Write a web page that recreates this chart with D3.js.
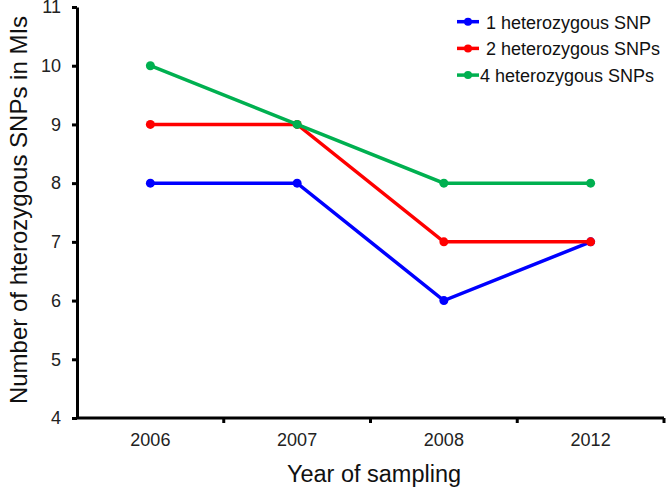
<!DOCTYPE html>
<html><head><meta charset="utf-8">
<script src="https://cdn.jsdelivr.net/npm/d3@7"></script>
<style>body{margin:0;background:#fff}svg{display:block}text{font-family:"Liberation Sans",Arial,sans-serif}</style>
</head><body><svg id="c" width="666" height="491"></svg>
<script>
const years = ["2006","2007","2008","2012"];
const seriesNames = ["1 heterozygous SNP","2 heterozygous SNPs","4 heterozygous SNPs"];
const snp1 = [8,8,6,7];
const snp2 = [9,9,7,7];
const snp4 = [10,9,8,8];
const colors = ["#0000FF","#FF0000","#00B050"];
const yTicks = [4,5,6,7,8,9,10,11];

const svg = d3.select("#c");
const x = d3.scaleBand().domain(years).range([77,664]);
const y = d3.scaleLinear().domain([4,11]).range([418,7]);

// axes
const yAxis = d3.axisLeft(y).tickValues(yTicks).tickFormat(d3.format("d")).tickSize(5).tickSizeOuter(0).tickPadding(11);
const gy = svg.append("g").attr("transform","translate(77,0)").call(yAxis);
gy.select(".domain").attr("stroke","#000").attr("stroke-width",3);
gy.selectAll(".tick line").attr("stroke","#000").attr("stroke-width",3);
gy.selectAll(".tick text").attr("font-size",18).attr("fill","#222");

const gx = svg.append("g").attr("transform","translate(0,418)");
gx.append("line").attr("x1",77).attr("x2",664).attr("y1",0).attr("y2",0).attr("stroke","#000").attr("stroke-width",3);
const bounds = years.map(d=>x(d)+x.bandwidth());
gx.selectAll("line.tk").data(bounds).join("line").attr("class","tk")
  .attr("x1",d=>d).attr("x2",d=>d).attr("y1",0).attr("y2",5).attr("stroke","#000").attr("stroke-width",3);
gx.selectAll("text").data(years).join("text")
  .attr("x",d=>x(d)+x.bandwidth()/2).attr("y",28).attr("text-anchor","middle")
  .attr("font-size",18).attr("fill","#222").text(d=>d);

svg.append("text").attr("x",374).attr("y",482).attr("text-anchor","middle").attr("font-size",23.5).attr("fill","#111").text("Year of sampling");
svg.append("text").attr("transform","translate(27,210) rotate(-90)").attr("text-anchor","middle").attr("font-size",24).attr("fill","#111").text("Number of hterozygous SNPs in MIs");

const data = [snp1,snp2,snp4];
const line = d3.line().x((d,i)=>x(years[i])+x.bandwidth()/2).y(d=>y(d));
data.forEach((s,k)=>{
  const g = svg.append("g");
  g.append("path").attr("d",line(s)).attr("fill","none").attr("stroke",colors[k]).attr("stroke-width",3.5);
  g.selectAll("circle").data(s).join("circle")
    .attr("cx",(d,i)=>x(years[i])+x.bandwidth()/2).attr("cy",d=>y(d)).attr("r",4.5).attr("fill",colors[k]);
});

// legend
const leg = svg.append("g");
seriesNames.forEach((n,k)=>{
  const yy = 21.7 + k*26.7;
  leg.append("line").attr("x1",457).attr("x2",479).attr("y1",yy).attr("y2",yy).attr("stroke",colors[k]).attr("stroke-width",3.5);
  leg.append("circle").attr("cx",468).attr("cy",yy).attr("r",4).attr("fill",colors[k]);
  leg.append("text").attr("x",k===2?480:486).attr("y",yy+7).attr("font-size",18).attr("fill","#111").text(n);
});
</script></body></html>
